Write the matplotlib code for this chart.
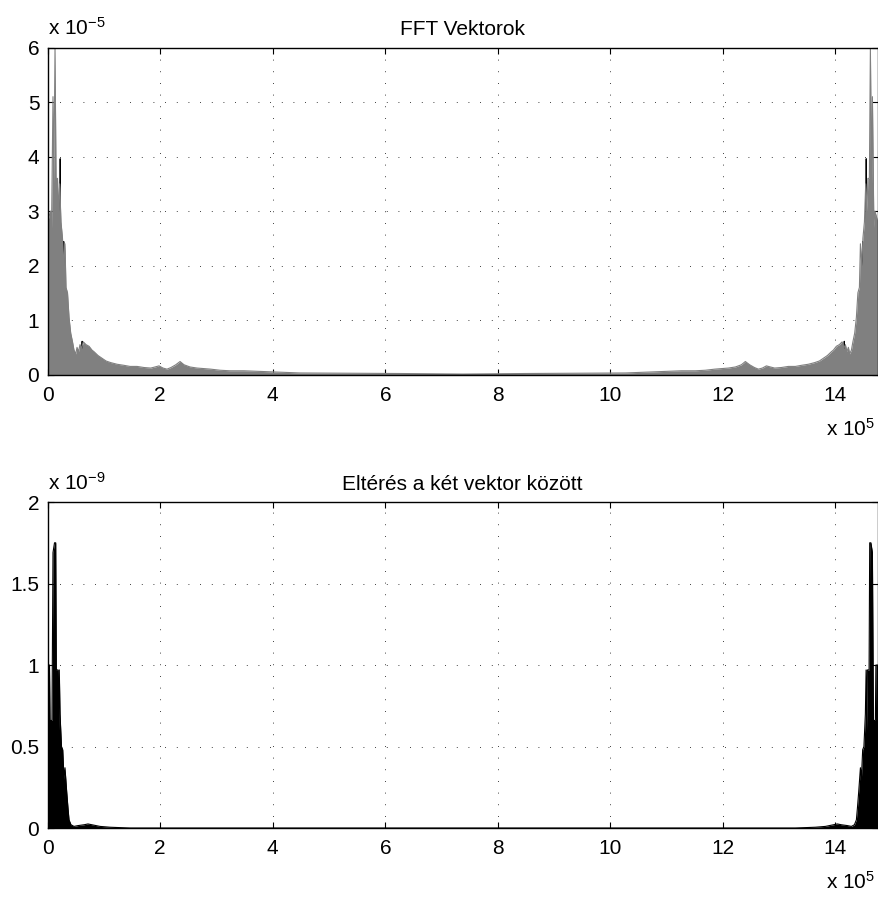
import numpy as np
import matplotlib
matplotlib.use('Agg')
import matplotlib.pyplot as plt

plt.rcParams['font.family'] = ['Liberation Sans', 'DejaVu Sans']
plt.rcParams['mathtext.fontset'] = 'custom'
plt.rcParams['mathtext.rm'] = 'Liberation Sans'
plt.rcParams['mathtext.it'] = 'Liberation Sans:italic'
plt.rcParams['mathtext.default'] = 'regular'

# ---------------- data (x in units of 1e5 samples) ----------------
X_MAX = 14.75

# FFT magnitude (units 1e-5), left half of the symmetric spectrum (gray vector)
fft_x_left = [0.000, 0.023, 0.050, 0.068, 0.094, 0.108, 0.130, 0.148, 0.174, 0.192,
              0.213, 0.236, 0.263, 0.281, 0.307, 0.325, 0.352, 0.379, 0.409, 0.441,
              0.467, 0.498, 0.521, 0.547, 0.574, 0.601, 0.633, 0.681, 0.734, 0.787,
              0.823, 0.894, 0.965, 1.036, 1.120, 1.232, 1.356, 1.463, 1.588, 1.712,
              1.831, 1.907, 1.978, 2.049, 2.120, 2.191, 2.275, 2.352, 2.423, 2.529,
              2.654, 2.778, 2.897, 3.063, 3.240, 3.489, 3.738, 3.987, 4.485, 5.373,
              6.262, 7.375]
fft_gray_left = [2.80, 2.90, 3.00, 2.70, 5.10, 3.50, 6.00, 3.60, 3.60, 3.00,
                 3.50, 2.80, 2.50, 2.00, 2.40, 1.60, 1.50, 1.05, 0.76, 0.60,
                 0.45, 0.38, 0.50, 0.42, 0.55, 0.48, 0.60, 0.55, 0.52, 0.45,
                 0.42, 0.35, 0.30, 0.25, 0.22, 0.19, 0.17, 0.15, 0.15, 0.13,
                 0.12, 0.14, 0.16, 0.12, 0.10, 0.13, 0.18, 0.24, 0.18, 0.14,
                 0.12, 0.11, 0.10, 0.08, 0.07, 0.07, 0.06, 0.05, 0.03, 0.025,
                 0.02, 0.01]

# Black vector: spots where it shows above the gray one (left half)
fft_black_x = [0.000, 0.004, 0.008, 0.205, 0.213, 0.221, 0.268, 0.276, 0.284, 0.595, 0.603, 0.611]
fft_black_left = [0.0, 1.70, 0.0, 0.0, 3.97, 0.0, 0.0, 2.45, 0.0, 0.0, 0.62, 0.0]

# Difference (units 1e-9), left half
diff_x_left = [0.000, 0.032, 0.041, 0.076, 0.094, 0.121, 0.142, 0.153, 0.183, 0.192,
               0.206, 0.219, 0.245, 0.267, 0.290, 0.307, 0.338, 0.361, 0.379, 0.414,
               0.467, 0.539, 0.645, 0.716, 0.787, 0.930, 1.107, 1.463, 7.375]
diff_left = [1.00, 1.00, 0.66, 0.66, 1.69, 1.75, 1.75, 0.97, 0.97, 0.60,
             0.97, 0.70, 0.50, 0.48, 0.30, 0.37, 0.22, 0.12, 0.05, 0.02,
             0.01, 0.015, 0.02, 0.025, 0.02, 0.01, 0.005, 0.0, 0.0]

x_ticks = [0, 2, 4, 6, 8, 10, 12, 14]
top_yticks = [0, 1, 2, 3, 4, 5, 6]
bot_yticks = [0, 0.5, 1, 1.5, 2]
bot_ytick_labels = ['0', '0.5', '1', '1.5', '2']
titles = ['FFT Vektorok', 'Eltérés a két vektor között']
y_exponents = [r'x 10$^{-5}$', r'x 10$^{-9}$']
x_exponent = r'x 10$^{5}$'


def mirror(xl, yl):
    xl = np.asarray(xl, float)
    yl = np.asarray(yl, float)
    x = np.concatenate([xl, X_MAX - xl[::-1]])
    y = np.concatenate([yl, yl[::-1]])
    return x, y


FS = 15
fig = plt.figure(figsize=(8.79, 9.02), dpi=100)
ax1 = fig.add_axes([0.05427, 0.5847, 0.94425, 0.36253])
ax2 = fig.add_axes([0.05427, 0.0820, 0.94425, 0.3614])

# top plot
bx, by = mirror(fft_black_x, fft_black_left)
ax1.fill_between(bx, 0, by, color='black', lw=0.8, edgecolor='black', zorder=2)
gx, gy = mirror(fft_x_left, fft_gray_left)
ax1.fill_between(gx, 0, gy, color='#808080', lw=0, zorder=3)
ax1.plot(gx, gy, color='#808080', lw=0.8, zorder=3)

# bottom plot
dx, dy = mirror(diff_x_left, diff_left)
ax2.fill_between(dx, 0, dy, color='black', lw=0, zorder=3)
ax2.plot(dx, dy, color='black', lw=0.8, zorder=3)

for ax, yt, ylab, ylim, title, yexp in [
        (ax1, top_yticks, [str(v) for v in top_yticks], (0, 6), titles[0], y_exponents[0]),
        (ax2, bot_yticks, bot_ytick_labels, (0, 2), titles[1], y_exponents[1])]:
    ax.set_xlim(0, X_MAX)
    ax.set_ylim(*ylim)
    ax.set_xticks(x_ticks)
    ax.set_xticklabels([str(v) for v in x_ticks])
    ax.set_yticks(yt)
    ax.set_yticklabels(ylab)
    ax.tick_params(direction='in', length=4, width=0.8, top=True, right=True,
                   labelsize=FS, colors='black')
    ax.tick_params(axis='x', pad=8)
    ax.tick_params(axis='y', pad=6)
    ax.grid(True, linestyle=(0, (1, 13)), linewidth=0.6, color='black')
    ax.set_axisbelow(True)
    for s in ax.spines.values():
        s.set_linewidth(1.0)
        s.set_color('black')
        s.set_zorder(5)
    ax.set_title(title, fontsize=FS, pad=9)
    ax.annotate(yexp, xy=(0, 1), xycoords='axes fraction', xytext=(0, 9),
                textcoords='offset points', ha='left', va='baseline', fontsize=FS)
    ax.annotate(x_exponent, xy=(1, 0), xycoords='axes fraction', xytext=(-2, -44),
                textcoords='offset points', ha='right', va='baseline', fontsize=FS)

fig.savefig('out.png', dpi=100)
